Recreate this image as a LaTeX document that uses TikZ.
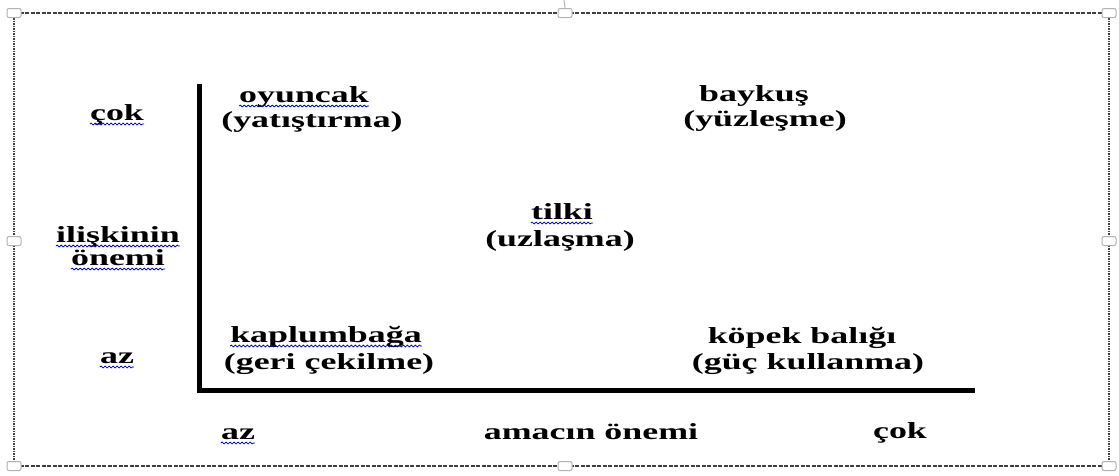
\documentclass[tikz,border=0pt]{standalone}
\usepackage{fontspec}
\setmainfont[FakeStretch=1.56]{Liberation Serif}
\usetikzlibrary{decorations.pathmorphing}
\begin{document}
\begin{tikzpicture}[x=1pt,y=-1pt,
 lbl/.style={font=\fontsize{23}{28}\selectfont\bfseries, inner sep=0pt, anchor=base},
 wavy/.style={draw=blue!80!black, line width=0.8pt, decorate, decoration={snake, amplitude=0.9pt, segment length=4pt}},
 handle/.style={draw=gray!60, fill=white, rounded corners=2pt, minimum width=14pt, minimum height=9pt, inner sep=0pt, line width=1pt},
 axis/.style={line width=5pt, black},
 frameh/.style={draw=black!75, line width=1.7pt, dash pattern=on 4pt off 1.5pt},
 framev/.style={draw=black!75, line width=1.7pt, dash pattern=on 1.5pt off 1pt}]
\useasboundingbox (0,0) rectangle (1119,475);
% frame
\coordinate (tl) at (14,13);
\coordinate (tr) at (1109,13);
\coordinate (bl) at (14,466);
\coordinate (br) at (1109,466);
\coordinate (rot) at (564,0);
\draw[frameh] (tl) -- (tr);
\draw[frameh] (bl) -- (br);
\draw[framev] (tl) -- (bl);
\draw[framev] (tr) -- (br);
\node[handle] (hTL) at (tl) {};
\node[handle] (hTR) at (tr) {};
\node[handle] (hBL) at (bl) {};
\node[handle] (hBR) at (br) {};
\node[handle] (hT) at (565,13) {};
\node[handle] (hB) at (565,466) {};
\node[handle] (hL) at (14,241) {};
\node[handle] (hR) at (1109,241) {};
\draw[gray!60, line width=1pt] (rot) -- (hT.north);
% axes
\coordinate (ytop) at (199,84);
\coordinate (orig) at (199,390);
\coordinate (xend) at (975,390);
\draw[axis] (ytop) -- (orig) -- (xend);
% labels
\node[lbl] (cokL) at (117,120) {çok};
\node[lbl] (ilis) at (118,242) {ilişkinin};
\node[lbl] (onemi) at (118,265) {önemi};
\node[lbl] (azL) at (117,363) {az};
\node[lbl] (oyun) at (304,102) {oyuncak};
\node[lbl] (oyun2) at (312,127) {(yatıştırma)};
\node[lbl] (bayk) at (754,101) {baykuş};
\node[lbl] (bayk2) at (765,126) {(yüzleşme)};
\node[lbl] (tilki) at (562,219) {tilki};
\node[lbl] (tilki2) at (560,246) {(uzlaşma)};
\node[lbl] (kapl) at (326,342) {kaplumbağa};
\node[lbl] (kapl2) at (329,369) {(geri çekilme)};
\node[lbl] (kopek) at (802,343) {köpek balığı};
\node[lbl] (kopek2) at (808,369) {(güç kullanma)};
\node[lbl] (azB) at (238,439) {az};
\node[lbl] (amac) at (591,439) {amacın önemi};
\node[lbl] (cokB) at (900,438) {çok};
% spell-check underlines
\foreach \n in {cokL,ilis,onemi,azL,oyun,tilki,kapl,azB}{
  \draw[wavy] ([yshift=-4pt]\n.base west) -- ([yshift=-4pt]\n.base east);
}
\end{tikzpicture}
\end{document}
